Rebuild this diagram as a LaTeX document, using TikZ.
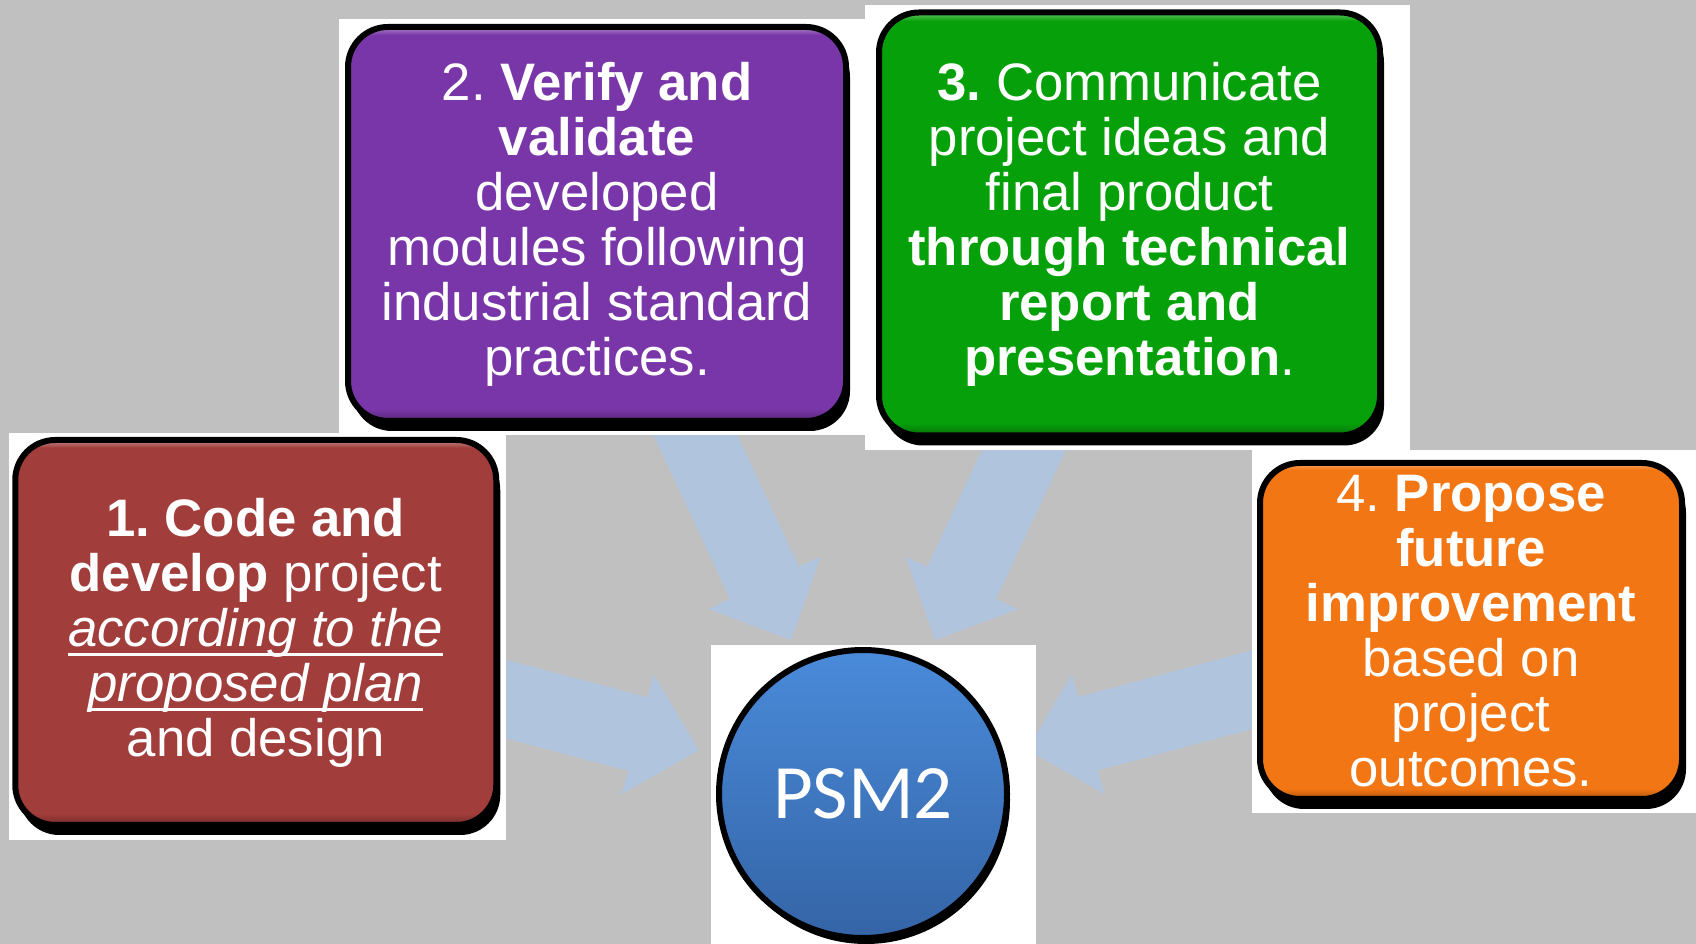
\documentclass[tikz,border=0pt]{standalone}
\usepackage{fontspec}
\setmainfont{Liberation Sans}
\newfontfamily\hubfont{Carlito}
\usepackage{tikz}
\usetikzlibrary{arrows.meta}
\usetikzlibrary{shadows}
\definecolor{bggray}{RGB}{192,192,192}
\definecolor{flowblue}{RGB}{176,196,222}
\definecolor{stpred}{RGB}{161,61,59}
\definecolor{stppurple}{RGB}{121,54,168}
\definecolor{stpgreen}{RGB}{6,161,10}
\definecolor{stporange}{RGB}{242,118,19}
\definecolor{hubtop}{RGB}{74,139,218}
\definecolor{hubbot}{RGB}{52,100,166}
\colorlet{bvbase}{white}
\colorlet{bvdark}{white}
\colorlet{bvlight}{white}
% layers: grey page, arrows, white patches, boxes
\pgfdeclarelayer{bg}
\pgfdeclarelayer{flow}
\pgfdeclarelayer{paper}
\pgfsetlayers{bg,flow,paper,main}
\pgfdeclareverticalshading[bvdark,bvbase,bvlight]{bevel}{100bp}{%
  color(0bp)=(bvdark); color(25bp)=(bvdark); color(26.5bp)=(bvbase);
  color(74bp)=(bvbase); color(75bp)=(bvlight); color(100bp)=(bvlight)}
\newcommand\undl[1]{\setbox0\hbox{#1}\rlap{\rule[-2.85pt]{\wd0}{0.85pt}}\box0}
\frenchspacing
\tikzset{
  stepnode/.style = {rectangle, rounded corners=4mm, draw=black, line width=0.6mm,
    align=center, text=white, inner sep=0pt, shading=bevel,
    font=\fontsize{15pt}{15.65pt}\selectfont,
    drop shadow={shadow xshift=0.4mm, shadow yshift=-1mm, fill=black, opacity=1}},
  stepcol/.code = {\colorlet{bvbase}{#1}\colorlet{bvdark}{#1!70!black}%
    \colorlet{bvlight}{#1!60!white}},
  stp_r/.style = {stepnode, stepcol=stpred},% code and develop
  stp_p/.style = {stepnode, stepcol=stppurple},% verify
  stp_g/.style = {stepnode, stepcol=stpgreen},% communicate
  stp_o/.style = {stepnode, stepcol=stporange},% future work
  hub/.style = {circle, draw=black, line width=0.6mm, inner sep=0pt,
    top color=hubtop, bottom color=hubbot, text=white,
    font=\hubfont\fontsize{21.9pt}{24pt}\selectfont,
    drop shadow={shadow xshift=0.3mm, shadow yshift=-0.6mm, fill=black, opacity=1}},
  arr_in/.style = {draw=flowblue, line width=7.6mm, shorten >=2.3mm,
    -{Triangle[width=12.4mm, length=6.3mm, line width=0pt]}}
}

\begin{document}
\begin{tikzpicture}[x=0.1mm, y=-0.1mm]
\useasboundingbox (0,0) rectangle (1696,944);
\begin{pgfonlayer}{bg}
\fill[bggray] (0,0) rectangle (1696,944);
\end{pgfonlayer}

\node [stp_r, minimum width=48.1mm, minimum height=38.5mm] (c) at (255.75,632.5)
  {\bfseries 1. Code and\\ \bfseries develop \mdseries project\\
   \undl{\itshape according to the}\\ \undl{\itshape proposed plan}\\ and design};
\node [stp_p, minimum width=49.8mm, minimum height=39.4mm] (v) at (597,224)
  {2. \bfseries Verify and\\ \bfseries validate\\ developed\\ modules following\\
   industrial standard\\ practices.};
\node [stp_g, minimum width=50.1mm, minimum height=42.3mm] (m) at (1129.5,224)
  {\bfseries 3. \mdseries Communicate\\ project ideas and\\ final product\\
   \bfseries through technical\\ \bfseries report and\\ \bfseries presentation\mdseries .};
\node [stp_o, minimum width=42.2mm, minimum height=33.6mm] (f) at (1471,631)
  {4. \bfseries Propose\\ \bfseries future\\ \bfseries improvement\\ based on\\
   project\\ outcomes.};
\node [hub, minimum size=28.8mm] (p) at (863,794) {PSM2};

% white patches behind every shape
\begin{pgfonlayer}{paper}
\fill[white] (9,433) rectangle (506,840);
\fill[white] (339,19) rectangle (866,435);
\fill[white] (865,5) rectangle (1410,450);
\fill[white] (1252,450) rectangle (1696,813);
\fill[white] (711,645) rectangle (1036,944);
\end{pgfonlayer}

\begin{pgfonlayer}{flow}
\draw[arr_in] (c.center) -- (p);
\draw[arr_in] (v.center) -- (p);
\draw[arr_in] (m.center) -- (p);
\draw[arr_in] (f.center) -- (p);
\end{pgfonlayer}
\end{tikzpicture}
\end{document}
